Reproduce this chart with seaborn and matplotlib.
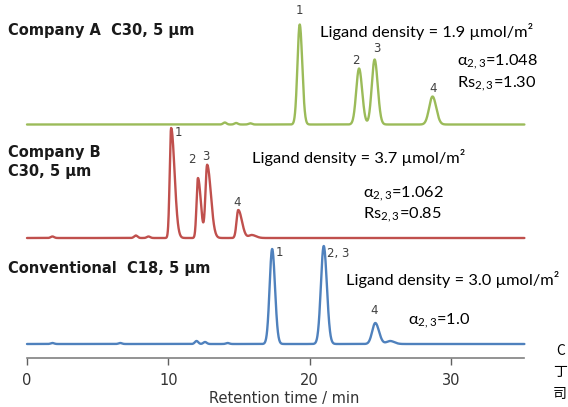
import numpy as np
import pandas as pd
import matplotlib
matplotlib.use("Agg")
import matplotlib.pyplot as plt
import seaborn as sns

# peak tables (min, relative height, left/right width)
rt_a = [19.3, 23.5, 24.6, 28.7]
h_a = [100, 56, 65, 28]
wl_a = [0.16, 0.2, 0.2, 0.24]
wr_a = [0.18, 0.22, 0.22, 0.26]
small_rt_a = [14.0, 14.8, 15.8]
small_h_a = [2.0, 1.5, 1.2]

rt_b = [10.2, 12.1, 12.75, 14.95, 15.9]
h_b = [110, 60, 73, 28, 3]
wl_b = [0.1, 0.1, 0.12, 0.12, 0.2]
wr_b = [0.24, 0.2, 0.26, 0.26, 0.3]
small_rt_b = [1.8, 7.7, 8.6]
small_h_b = [1.5, 2.5, 1.5]

rt_c = [17.35, 21.0, 24.65, 25.7]
h_c = [95, 98, 21, 3]
wl_c = [0.18, 0.2, 0.22, 0.25]
wr_c = [0.2, 0.22, 0.26, 0.3]
small_rt_c = [1.8, 6.6, 12.0, 12.6, 14.2]
small_h_c = [1.0, 1.0, 3.0, 2.0, 1.0]

peak_labels_a = ["1", "2", "3", "4"]
peak_labels_b = ["1", "2", "3", "4"]
peak_labels_c = ["1", "2, 3", "4"]

xticks = [0, 10, 20, 30]
t_end = 35.2

W, H = 568, 407
px_per_min = 14.13
x0_px = 27
base_a, base_b, base_c = H - 124.5, H - 238, H - 344
axis_y = H - 358


def trace(rts, hs, wl, wr, srt, sh):
    t = np.linspace(0, t_end, 3000)
    y = np.zeros_like(t)
    for r, h, a, b in zip(rts, hs, wl, wr):
        s = np.where(t < r, a, b)
        y += h * np.exp(-0.5 * ((t - r) / s) ** 2)
    for r, h in zip(srt, sh):
        y += h * np.exp(-0.5 * ((t - r) / 0.12) ** 2)
    return t, y


ta, ya = trace(rt_a, h_a, wl_a, wr_a, small_rt_a, small_h_a)
tb, yb = trace(rt_b, h_b, wl_b, wr_b, small_rt_b, small_h_b)
tc, yc = trace(rt_c, h_c, wl_c, wr_c, small_rt_c, small_h_c)

df = pd.concat([
    pd.DataFrame({"t": ta, "y": ya + base_a, "col": "A"}),
    pd.DataFrame({"t": tb, "y": yb + base_b, "col": "B"}),
    pd.DataFrame({"t": tc, "y": yc + base_c, "col": "C"}),
])

sns.set_theme(style="white")
plt.rcParams["font.family"] = ["DejaVu Sans"]
plt.rcParams["mathtext.default"] = "regular"

fig = plt.figure(figsize=(W / 100, H / 100), dpi=100)
ax = fig.add_axes([0, 0, 1, 1])
ax.patch.set_alpha(0)

pal = {"A": "#9BBB59", "B": "#C0504D", "C": "#4F81BD"}
sns.lineplot(data=df, x="t", y="y", hue="col", palette=pal, linewidth=1.7,
             legend=False, ax=ax, estimator=None, sort=False)

ax.set_xlim(-x0_px / px_per_min, (W - x0_px) / px_per_min)
ax.set_ylim(0, H)
for s in ["left", "top", "right"]:
    ax.spines[s].set_visible(False)
ax.spines["bottom"].set_position(("data", axis_y))
ax.spines["bottom"].set_bounds(0, t_end)
ax.spines["bottom"].set_color("#808080")
ax.spines["bottom"].set_linewidth(1.2)
ax.set_yticks([])
ax.set_xticks(xticks)
ax.tick_params(axis="x", direction="out", length=5, width=1, color="#606060",
               pad=6, labelsize=10.5, labelcolor="#333333", bottom=True)
ax.set_xlabel("Retention time / min", fontsize=10.5, color="#333333", labelpad=2)
ax.set_ylabel("")


def ftxt(x, y, s, **kw):
    fig.text(x / W, 1 - y / H, s, va="center", ha="left", **kw)


lig = dict(family=["Lato", "DejaVu Sans"], fontsize=11.8, color="black")
bold = dict(fontsize=10.5, fontweight="bold", color="#1a1a1a")
num = dict(fontsize=8.5, color="#404040")

ftxt(8, 30, "Company A  C30, 5 µm", **bold)
ftxt(320, 31, "Ligand density = 1.9 µmol/m²", **lig)
ftxt(457, 62, "α$_{2,3}$=1.048", **lig)
ftxt(457, 84, "Rs$_{2,3}$=1.30", **lig)
for lab, (x, y) in zip(peak_labels_a, [(296, 11), (352, 60), (373, 49), (429, 88)]):
    ftxt(x, y, lab, **num)

ftxt(8, 152, "Company B", **bold)
ftxt(8, 172, "C30, 5 µm", **bold)
ftxt(252, 158, "Ligand density = 3.7 µmol/m²", **lig)
ftxt(363, 194, "α$_{2,3}$=1.062", **lig)
ftxt(363, 215, "Rs$_{2,3}$=0.85", **lig)
for lab, (x, y) in zip(peak_labels_b, [(175, 133), (188, 160), (202, 156), (233, 202)]):
    ftxt(x, y, lab, **num)

ftxt(8, 268, "Conventional  C18, 5 µm", **bold)
ftxt(346, 280, "Ligand density = 3.0 µmol/m²", **lig)
ftxt(408, 321, "α$_{2,3}$=1.0", **lig)
for lab, (x, y) in zip(peak_labels_c, [(276, 253), (327, 253), (370, 311)]):
    ftxt(x, y, lab, **num)

# fragments of neighbouring text at the right edge
frag = dict(family=["Noto Sans CJK JP", "DejaVu Sans"], fontsize=10, color="black")
ftxt(556, 351, "C", **frag)
ftxt(553, 372, "丁", **frag)
ftxt(553, 394, "司", **frag)

fig.savefig("out.png", dpi=100)
